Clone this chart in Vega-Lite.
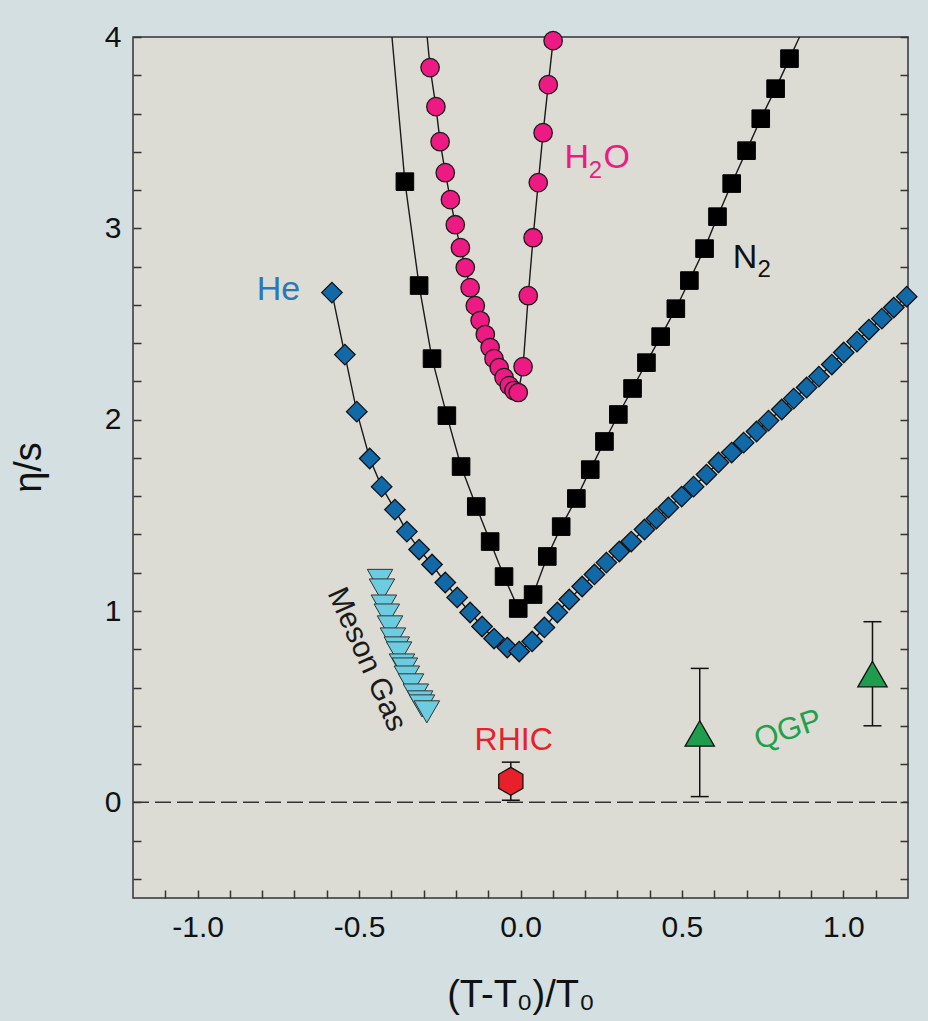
{
  "$schema": "https://vega.github.io/schema/vega-lite/v6.json",
  "width": 775,
  "height": 861,
  "autosize": {"type": "none"},
  "padding": {"left": 133, "top": 37, "right": 20, "bottom": 123},
  "background": "#d3dfe0",
  "config": {
    "view": {"fill": "#dddcd4", "stroke": "#333333", "strokeWidth": 1.5},
    "font": "Liberation Sans"
  },
  "datasets": {
    "curves": [
      {"series": "He", "kind": "m", "x": -0.584, "y": 2.664},
      {"series": "He", "kind": "m", "x": -0.544, "y": 2.34},
      {"series": "He", "kind": "m", "x": -0.507, "y": 2.042},
      {"series": "He", "kind": "m", "x": -0.467, "y": 1.797},
      {"series": "He", "kind": "m", "x": -0.43, "y": 1.65},
      {"series": "He", "kind": "m", "x": -0.389, "y": 1.53},
      {"series": "He", "kind": "m", "x": -0.352, "y": 1.415},
      {"series": "He", "kind": "m", "x": -0.314, "y": 1.321},
      {"series": "He", "kind": "m", "x": -0.274, "y": 1.243},
      {"series": "He", "kind": "m", "x": -0.233, "y": 1.149},
      {"series": "He", "kind": "m", "x": -0.196, "y": 1.071},
      {"series": "He", "kind": "m", "x": -0.156, "y": 0.992},
      {"series": "He", "kind": "m", "x": -0.119, "y": 0.919},
      {"series": "He", "kind": "m", "x": -0.082, "y": 0.856},
      {"series": "He", "kind": "m", "x": -0.041, "y": 0.809},
      {"series": "He", "kind": "m", "x": -0.004, "y": 0.788},
      {"series": "He", "kind": "m", "x": 0.036, "y": 0.841},
      {"series": "He", "kind": "m", "x": 0.074, "y": 0.914},
      {"series": "He", "kind": "m", "x": 0.114, "y": 0.992},
      {"series": "He", "kind": "m", "x": 0.151, "y": 1.06},
      {"series": "He", "kind": "m", "x": 0.191, "y": 1.128},
      {"series": "He", "kind": "m", "x": 0.229, "y": 1.191},
      {"series": "He", "kind": "m", "x": 0.266, "y": 1.253},
      {"series": "He", "kind": "m", "x": 0.306, "y": 1.311},
      {"series": "He", "kind": "m", "x": 0.343, "y": 1.363},
      {"series": "He", "kind": "m", "x": 0.384, "y": 1.426},
      {"series": "He", "kind": "m", "x": 0.421, "y": 1.483},
      {"series": "He", "kind": "m", "x": 0.458, "y": 1.541},
      {"series": "He", "kind": "m", "x": 0.499, "y": 1.598},
      {"series": "He", "kind": "m", "x": 0.536, "y": 1.65},
      {"series": "He", "kind": "m", "x": 0.576, "y": 1.713},
      {"series": "He", "kind": "m", "x": 0.613, "y": 1.776},
      {"series": "He", "kind": "m", "x": 0.654, "y": 1.828},
      {"series": "He", "kind": "m", "x": 0.691, "y": 1.88},
      {"series": "He", "kind": "m", "x": 0.731, "y": 1.938},
      {"series": "He", "kind": "m", "x": 0.768, "y": 1.995},
      {"series": "He", "kind": "m", "x": 0.809, "y": 2.053},
      {"series": "He", "kind": "m", "x": 0.846, "y": 2.11},
      {"series": "He", "kind": "m", "x": 0.886, "y": 2.168},
      {"series": "He", "kind": "m", "x": 0.924, "y": 2.225},
      {"series": "He", "kind": "m", "x": 0.964, "y": 2.288},
      {"series": "He", "kind": "m", "x": 1.001, "y": 2.351},
      {"series": "He", "kind": "m", "x": 1.042, "y": 2.408},
      {"series": "He", "kind": "m", "x": 1.079, "y": 2.471},
      {"series": "He", "kind": "m", "x": 1.119, "y": 2.528},
      {"series": "He", "kind": "m", "x": 1.156, "y": 2.586},
      {"series": "He", "kind": "m", "x": 1.196, "y": 2.643},
      {"series": "N2", "kind": "c", "x": -0.398, "y": 4.0},
      {"series": "N2", "kind": "m", "x": -0.358, "y": 3.244},
      {"series": "N2", "kind": "m", "x": -0.314, "y": 2.701},
      {"series": "N2", "kind": "m", "x": -0.274, "y": 2.319},
      {"series": "N2", "kind": "m", "x": -0.228, "y": 2.021},
      {"series": "N2", "kind": "m", "x": -0.184, "y": 1.755},
      {"series": "N2", "kind": "m", "x": -0.137, "y": 1.546},
      {"series": "N2", "kind": "m", "x": -0.094, "y": 1.363},
      {"series": "N2", "kind": "m", "x": -0.051, "y": 1.18},
      {"series": "N2", "kind": "m", "x": -0.007, "y": 1.013},
      {"series": "N2", "kind": "m", "x": 0.039, "y": 1.086},
      {"series": "N2", "kind": "m", "x": 0.083, "y": 1.285},
      {"series": "N2", "kind": "m", "x": 0.126, "y": 1.441},
      {"series": "N2", "kind": "m", "x": 0.173, "y": 1.588},
      {"series": "N2", "kind": "m", "x": 0.216, "y": 1.739},
      {"series": "N2", "kind": "m", "x": 0.26, "y": 1.886},
      {"series": "N2", "kind": "m", "x": 0.303, "y": 2.027},
      {"series": "N2", "kind": "m", "x": 0.347, "y": 2.163},
      {"series": "N2", "kind": "m", "x": 0.39, "y": 2.298},
      {"series": "N2", "kind": "m", "x": 0.434, "y": 2.434},
      {"series": "N2", "kind": "m", "x": 0.481, "y": 2.58},
      {"series": "N2", "kind": "m", "x": 0.523, "y": 2.727},
      {"series": "N2", "kind": "m", "x": 0.57, "y": 2.894},
      {"series": "N2", "kind": "m", "x": 0.61, "y": 3.061},
      {"series": "N2", "kind": "m", "x": 0.654, "y": 3.234},
      {"series": "N2", "kind": "m", "x": 0.7, "y": 3.406},
      {"series": "N2", "kind": "m", "x": 0.744, "y": 3.573},
      {"series": "N2", "kind": "m", "x": 0.79, "y": 3.73},
      {"series": "N2", "kind": "m", "x": 0.833, "y": 3.887},
      {"series": "N2", "kind": "c", "x": 0.864, "y": 4.0},
      {"series": "H2O", "kind": "c", "x": -0.289, "y": 4.0},
      {"series": "H2O", "kind": "m", "x": -0.28, "y": 3.84},
      {"series": "H2O", "kind": "m", "x": -0.262, "y": 3.636},
      {"series": "H2O", "kind": "m", "x": -0.249, "y": 3.453},
      {"series": "H2O", "kind": "m", "x": -0.233, "y": 3.291},
      {"series": "H2O", "kind": "m", "x": -0.217, "y": 3.15},
      {"series": "H2O", "kind": "m", "x": -0.202, "y": 3.019},
      {"series": "H2O", "kind": "m", "x": -0.186, "y": 2.899},
      {"series": "H2O", "kind": "m", "x": -0.171, "y": 2.795},
      {"series": "H2O", "kind": "m", "x": -0.156, "y": 2.69},
      {"series": "H2O", "kind": "m", "x": -0.14, "y": 2.596},
      {"series": "H2O", "kind": "m", "x": -0.125, "y": 2.518},
      {"series": "H2O", "kind": "m", "x": -0.109, "y": 2.445},
      {"series": "H2O", "kind": "m", "x": -0.094, "y": 2.377},
      {"series": "H2O", "kind": "m", "x": -0.082, "y": 2.319},
      {"series": "H2O", "kind": "m", "x": -0.066, "y": 2.272},
      {"series": "H2O", "kind": "m", "x": -0.051, "y": 2.22},
      {"series": "H2O", "kind": "m", "x": -0.035, "y": 2.178},
      {"series": "H2O", "kind": "m", "x": -0.02, "y": 2.152},
      {"series": "H2O", "kind": "m", "x": -0.007, "y": 2.142},
      {"series": "H2O", "kind": "m", "x": 0.008, "y": 2.277},
      {"series": "H2O", "kind": "m", "x": 0.024, "y": 2.648},
      {"series": "H2O", "kind": "m", "x": 0.039, "y": 2.951},
      {"series": "H2O", "kind": "m", "x": 0.055, "y": 3.239},
      {"series": "H2O", "kind": "m", "x": 0.07, "y": 3.5},
      {"series": "H2O", "kind": "m", "x": 0.086, "y": 3.751},
      {"series": "H2O", "kind": "m", "x": 0.101, "y": 3.981}
    ],
    "meson": [
      {"x": -0.435, "y": 1.16},
      {"x": -0.429, "y": 1.11},
      {"x": -0.423, "y": 1.026},
      {"x": -0.414, "y": 0.979},
      {"x": -0.404, "y": 0.917},
      {"x": -0.395, "y": 0.854},
      {"x": -0.383, "y": 0.807},
      {"x": -0.376, "y": 0.781},
      {"x": -0.367, "y": 0.718},
      {"x": -0.358, "y": 0.697},
      {"x": -0.352, "y": 0.655},
      {"x": -0.339, "y": 0.614},
      {"x": -0.324, "y": 0.561},
      {"x": -0.311, "y": 0.525},
      {"x": -0.305, "y": 0.504},
      {"x": -0.29, "y": 0.473}
    ],
    "errs": [
      {"x": -0.03, "lo": 0.011, "hi": 0.21},
      {"x": 0.555, "lo": 0.03, "hi": 0.7},
      {"x": 1.09, "lo": 0.4, "hi": 0.944}
    ],
    "rhic": [{"x": -0.03, "y": 0.11}],
    "qgp": [{"x": 0.555, "y": 0.36}, {"x": 1.09, "y": 0.67}],
    "zero": [{"x": -1.2, "x2": 1.2, "y": 0}],
    "anchor": [{"x": 0, "y": 0}]
  },
  "resolve": {"axis": {"y": "independent"}},
  "layer": [
    {
      "data": {"name": "anchor"},
      "mark": {"type": "point", "opacity": 0},
      "encoding": {
        "x": {
          "field": "x", "type": "quantitative",
          "scale": {"domain": [-1.2, 1.2], "nice": false, "zero": false},
          "axis": {
            "orient": "bottom",
            "values": [-1.1, -1, -0.9, -0.8, -0.7, -0.6, -0.5, -0.4, -0.3, -0.2, -0.1, 0, 0.1, 0.2, 0.3, 0.4, 0.5, 0.6, 0.7, 0.8, 0.9, 1, 1.1],
            "tickCount": 50,
            "labelExpr": "abs(datum.value*2-round(datum.value*2))<0.001 ? ((datum.value < -0.001 ? '-' : '') + format(abs(datum.value),'.1f')) : ''",
            "tickSize": -8, "tickWidth": 1.5, "tickColor": "#333333",
            "domain": false, "grid": false,
            "labelFont": "Liberation Sans", "labelFontSize": 30, "labelColor": "#111111",
            "labelPadding": 22, "labelFlush": false, "labelOverlap": false, "labelBound": false,
            "title": "(T-T\u2080)/T\u2080",
            "titleFont": "Liberation Sans", "titleFontSize": 38, "titleFontWeight": "normal", "titleColor": "#111111",
            "titleY": 108, "titleBaseline": "alphabetic"
          }
        },
        "y": {
          "field": "y", "type": "quantitative",
          "scale": {"domain": [-0.5, 4], "nice": false, "zero": false},
          "axis": {
            "orient": "left",
            "values": [-0.4, -0.2, 0, 0.2, 0.4, 0.6, 0.8, 1, 1.2, 1.4, 1.6, 1.8, 2, 2.2, 2.4, 2.6, 2.8, 3, 3.2, 3.4, 3.6, 3.8, 4],
            "tickCount": 50,
            "labelExpr": "abs(datum.value-round(datum.value))<0.001 ? format(datum.value,'.0f') : ''",
            "tickSize": -8, "tickWidth": 1.5, "tickColor": "#333333",
            "domain": false, "grid": false,
            "labelFont": "Liberation Sans", "labelFontSize": 30, "labelColor": "#111111",
            "labelPadding": 20, "labelFlush": false, "labelOverlap": false, "labelBound": false,
            "title": "\u03b7/s",
            "titleFont": "Liberation Sans", "titleFontSize": 38, "titleFontWeight": "normal", "titleColor": "#111111",
            "titleAngle": 270, "titleX": -93, "titleY": 430, "titleBaseline": "alphabetic", "titleAlign": "center"
          }
        }
      }
    },
    {
      "data": {"name": "anchor"},
      "mark": {"type": "point", "opacity": 0},
      "encoding": {
        "x": {"field": "x", "type": "quantitative", "scale": {"domain": [-1.2, 1.2], "nice": false, "zero": false}},
        "y": {
          "field": "y", "type": "quantitative",
          "scale": {"domain": [-0.5, 4], "nice": false, "zero": false},
          "axis": {
            "orient": "right", "labels": false, "title": null,
            "values": [-0.4, -0.2, 0, 0.2, 0.4, 0.6, 0.8, 1, 1.2, 1.4, 1.6, 1.8, 2, 2.2, 2.4, 2.6, 2.8, 3, 3.2, 3.4, 3.6, 3.8, 4],
            "tickCount": 50,
            "tickSize": -8, "tickWidth": 1.5, "tickColor": "#333333",
            "domain": false, "grid": false
          }
        }
      }
    },
    {
      "data": {"name": "zero"},
      "mark": {"type": "rule", "color": "#333333", "strokeWidth": 1.5, "strokeDash": [16, 6]},
      "encoding": {
        "x": {"field": "x", "type": "quantitative"},
        "x2": {"field": "x2"},
        "y": {"field": "y", "type": "quantitative", "axis": null}
      }
    },
    {
      "data": {"name": "curves"},
      "mark": {"type": "line", "color": "#1a1a1a", "strokeWidth": 1.4},
      "encoding": {
        "detail": {"field": "series"},
        "x": {"field": "x", "type": "quantitative"},
        "y": {"field": "y", "type": "quantitative", "axis": null}
      }
    },
    {
      "data": {"name": "curves"},
      "transform": [{"filter": "datum.series === 'He' && datum.kind === 'm'"}],
      "mark": {"type": "point", "shape": "diamond", "filled": true, "fill": "#1169a8", "stroke": "#111111", "strokeWidth": 1.3, "size": 420, "opacity": 1},
      "encoding": {
        "x": {"field": "x", "type": "quantitative"},
        "y": {"field": "y", "type": "quantitative", "axis": null}
      }
    },
    {
      "data": {"name": "curves"},
      "transform": [{"filter": "datum.series === 'N2' && datum.kind === 'm'"}],
      "mark": {"type": "point", "shape": "square", "filled": true, "fill": "#000000", "stroke": "#000000", "strokeWidth": 1, "size": 310, "opacity": 1},
      "encoding": {
        "x": {"field": "x", "type": "quantitative"},
        "y": {"field": "y", "type": "quantitative", "axis": null}
      }
    },
    {
      "data": {"name": "curves"},
      "transform": [{"filter": "datum.series === 'H2O' && datum.kind === 'm'"}],
      "mark": {"type": "point", "shape": "circle", "filled": true, "fill": "#ec1a82", "stroke": "#1a1a1a", "strokeWidth": 1.3, "size": 340, "opacity": 1},
      "encoding": {
        "x": {"field": "x", "type": "quantitative"},
        "y": {"field": "y", "type": "quantitative", "axis": null}
      }
    },
    {
      "data": {"name": "meson"},
      "mark": {"type": "point", "shape": "triangle-down", "filled": true, "fill": "#6ccde0", "stroke": "#333333", "strokeWidth": 1, "size": 650, "opacity": 1},
      "encoding": {
        "x": {"field": "x", "type": "quantitative"},
        "y": {"field": "y", "type": "quantitative", "axis": null}
      }
    },
    {
      "data": {"name": "errs"},
      "mark": {"type": "rule", "color": "#111111", "strokeWidth": 1.5},
      "encoding": {
        "x": {"field": "x", "type": "quantitative"},
        "y": {"field": "lo", "type": "quantitative", "axis": null},
        "y2": {"field": "hi"}
      }
    },
    {
      "data": {"name": "errs"},
      "mark": {"type": "tick", "orient": "horizontal", "size": 18, "thickness": 1.5, "color": "#111111", "opacity": 1},
      "encoding": {
        "x": {"field": "x", "type": "quantitative"},
        "y": {"field": "lo", "type": "quantitative", "axis": null}
      }
    },
    {
      "data": {"name": "errs"},
      "mark": {"type": "tick", "orient": "horizontal", "size": 18, "thickness": 1.5, "color": "#111111", "opacity": 1},
      "encoding": {
        "x": {"field": "x", "type": "quantitative"},
        "y": {"field": "hi", "type": "quantitative", "axis": null}
      }
    },
    {
      "data": {"name": "rhic"},
      "mark": {"type": "point", "shape": "M0,-1L0.866,-0.5L0.866,0.5L0,1L-0.866,0.5L-0.866,-0.5Z", "filled": true, "fill": "#e8202a", "stroke": "#111111", "strokeWidth": 1.3, "size": 780, "opacity": 1},
      "encoding": {
        "x": {"field": "x", "type": "quantitative"},
        "y": {"field": "y", "type": "quantitative", "axis": null}
      }
    },
    {
      "data": {"name": "qgp"},
      "mark": {"type": "point", "shape": "triangle-up", "filled": true, "fill": "#1e9e4c", "stroke": "#111111", "strokeWidth": 1.3, "size": 860, "opacity": 1},
      "encoding": {
        "x": {"field": "x", "type": "quantitative"},
        "y": {"field": "y", "type": "quantitative", "axis": null}
      }
    },
    {
      "data": {"values": [{"txt": "He", "x": -0.817, "y": 2.627}]},
      "mark": {"type": "text", "align": "left", "baseline": "alphabetic", "fontSize": 34, "color": "#2a78b8", "font": "Liberation Sans"},
      "encoding": {
        "x": {"field": "x", "type": "quantitative"},
        "y": {"field": "y", "type": "quantitative", "axis": null},
        "text": {"field": "txt"}
      }
    },
    {
      "data": {"values": [{"txt": "H", "x": 0.136, "y": 3.317}, {"txt": "O", "x": 0.257, "y": 3.317}]},
      "mark": {"type": "text", "align": "left", "baseline": "alphabetic", "fontSize": 34, "color": "#ec1a82", "font": "Liberation Sans"},
      "encoding": {
        "x": {"field": "x", "type": "quantitative"},
        "y": {"field": "y", "type": "quantitative", "axis": null},
        "text": {"field": "txt"}
      }
    },
    {
      "data": {"values": [{"txt": "2", "x": 0.211, "y": 3.265}]},
      "mark": {"type": "text", "align": "left", "baseline": "alphabetic", "fontSize": 24, "color": "#ec1a82", "font": "Liberation Sans"},
      "encoding": {
        "x": {"field": "x", "type": "quantitative"},
        "y": {"field": "y", "type": "quantitative", "axis": null},
        "text": {"field": "txt"}
      }
    },
    {
      "data": {"values": [{"txt": "N", "x": 0.657, "y": 2.795}]},
      "mark": {"type": "text", "align": "left", "baseline": "alphabetic", "fontSize": 34, "color": "#111111", "font": "Liberation Sans"},
      "encoding": {
        "x": {"field": "x", "type": "quantitative"},
        "y": {"field": "y", "type": "quantitative", "axis": null},
        "text": {"field": "txt"}
      }
    },
    {
      "data": {"values": [{"txt": "2", "x": 0.734, "y": 2.745}]},
      "mark": {"type": "text", "align": "left", "baseline": "alphabetic", "fontSize": 24, "color": "#111111", "font": "Liberation Sans"},
      "encoding": {
        "x": {"field": "x", "type": "quantitative"},
        "y": {"field": "y", "type": "quantitative", "axis": null},
        "text": {"field": "txt"}
      }
    },
    {
      "data": {"values": [{"txt": "RHIC", "x": -0.021, "y": 0.276}]},
      "mark": {"type": "text", "align": "center", "baseline": "alphabetic", "fontSize": 32, "color": "#e8202a", "font": "Liberation Sans"},
      "encoding": {
        "x": {"field": "x", "type": "quantitative"},
        "y": {"field": "y", "type": "quantitative", "axis": null},
        "text": {"field": "txt"}
      }
    },
    {
      "data": {"values": [{"txt": "Meson Gas", "x": -0.476, "y": 0.747}]},
      "mark": {"type": "text", "align": "center", "baseline": "middle", "fontSize": 30, "angle": 66, "color": "#1a1a1a", "font": "Liberation Sans"},
      "encoding": {
        "x": {"field": "x", "type": "quantitative"},
        "y": {"field": "y", "type": "quantitative", "axis": null},
        "text": {"field": "txt"}
      }
    },
    {
      "data": {"values": [{"txt": "QGP", "x": 0.829, "y": 0.376}]},
      "mark": {"type": "text", "align": "center", "baseline": "middle", "fontSize": 31, "angle": -19, "color": "#1fa04f", "font": "Liberation Sans"},
      "encoding": {
        "x": {"field": "x", "type": "quantitative"},
        "y": {"field": "y", "type": "quantitative", "axis": null},
        "text": {"field": "txt"}
      }
    }
  ]
}
